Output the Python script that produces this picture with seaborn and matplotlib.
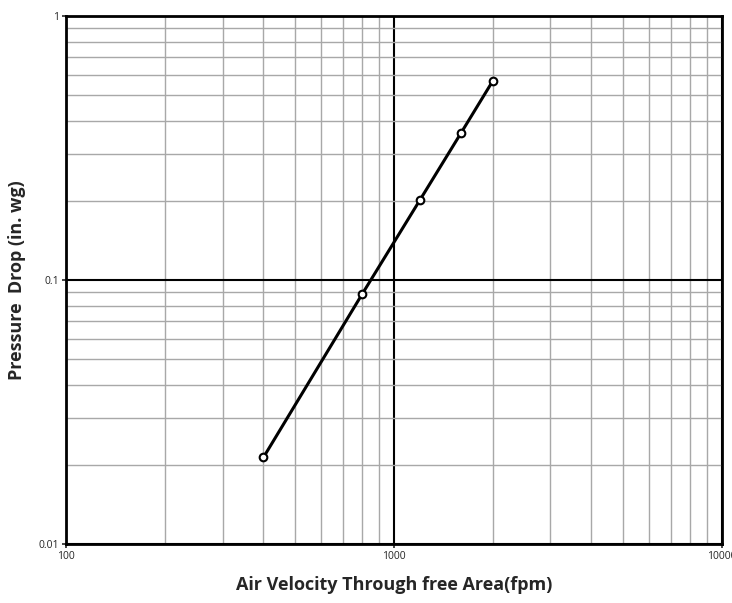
import seaborn as sns
import pandas as pd
import numpy as np
import matplotlib.pyplot as plt
from matplotlib.ticker import LogLocator, FixedLocator, FixedFormatter, NullFormatter

# Data
velocity = [400, 800, 1200, 1600, 2000]
pressure_drop = [0.0213, 0.0885, 0.201, 0.36, 0.567]

df = pd.DataFrame({'velocity': velocity, 'pressure': pressure_drop})

sns.set_style('white')
plt.rcParams['font.family'] = ['Open Sans', 'DejaVu Sans']

fig = plt.figure(figsize=(7.32, 6.03), dpi=100)
ax = fig.add_axes([0.0902, 0.0978, 0.8961, 0.8757])

sns.lineplot(data=df, x='velocity', y='pressure', ax=ax, color='black',
             linewidth=2.2, marker='o', markersize=5.5, markerfacecolor='white',
             markeredgecolor='black', markeredgewidth=1.5, zorder=5)

ax.set_xscale('log')
ax.set_yscale('log')
ax.set_xlim(100, 10000)
ax.set_ylim(0.01, 1)

# Gridlines: heavy black at decades, light grey in between
ax.xaxis.set_major_locator(FixedLocator([100, 1000, 10000]))
ax.yaxis.set_major_locator(FixedLocator([0.01, 0.1, 1]))
ax.xaxis.set_major_formatter(FixedFormatter(['100', '1000', '10000']))
ax.yaxis.set_major_formatter(FixedFormatter(['0.01', '0.1', '1']))
ax.xaxis.set_minor_locator(LogLocator(base=10, subs=np.arange(2, 10)))
ax.yaxis.set_minor_locator(LogLocator(base=10, subs=np.arange(2, 10)))
ax.xaxis.set_minor_formatter(NullFormatter())
ax.yaxis.set_minor_formatter(NullFormatter())

ax.grid(which='minor', color='#a8a8a8', linewidth=1.0)
ax.grid(which='major', color='black', linewidth=1.5)
ax.tick_params(which='major', length=3, width=1.2, labelsize=7.5, pad=2,
               direction='out', bottom=True, left=True)
ax.tick_params(which='minor', length=0)

for s in ax.spines.values():
    s.set_color('black')
    s.set_linewidth(2)
    s.set_visible(True)

ax.set_xlabel('Air Velocity Through free Area(fpm)', fontsize=13, fontweight='bold', labelpad=10)
ax.set_ylabel('Pressure  Drop (in. wg)', fontsize=13, fontweight='bold', labelpad=9)

fig.savefig('out.png', dpi=100)
